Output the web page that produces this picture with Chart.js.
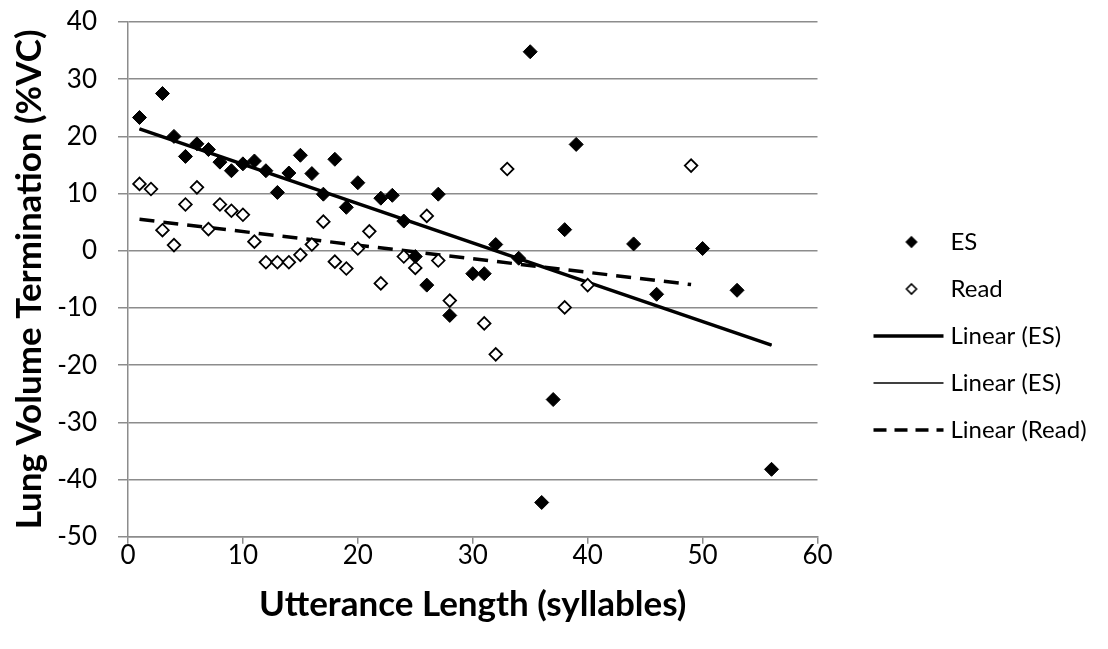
<!DOCTYPE html>
<html>
<head>
<meta charset="utf-8">
<script src="https://cdn.jsdelivr.net/npm/chart.js@4"></script>
<style>
  html, body { margin: 0; padding: 0; background: #fff; }
  #wrap { width: 1108px; height: 649px; }
</style>
</head>
<body>
<div id="wrap"><canvas id="chart" width="1108" height="649"></canvas></div>
<script>
// values
const esX = [1, 3, 4, 5, 6, 7, 8, 9, 10, 11, 12, 13, 14, 15, 16, 17, 18, 19, 20, 22,
  23, 24, 25, 26, 27, 28, 30, 31, 32, 34, 35, 36, 37, 38, 39, 44, 46, 50, 53, 56];
const esY = [23.3, 27.5, 20, 16.5, 18.7, 17.7, 15.5, 14, 15.2, 15.7, 14, 10.2, 13.6, 16.7, 13.5, 9.9, 16, 7.6, 11.9, 9.2,
  9.7, 5.2, -1, -6, 9.9, -11.3, -4, -4, 1.1, -1.3, 34.8, -44, -26, 3.7, 18.6, 1.2, -7.6, 0.4, -6.9, -38.2];

const readX = [1, 2, 3, 4, 5, 6, 7, 8, 9, 10, 11, 12, 13, 14, 15, 16, 17, 18, 19, 20,
  21, 22, 24, 25, 26, 27, 28, 31, 32, 33, 38, 40, 49];
const readY = [11.7, 10.8, 3.6, 1, 8.1, 11.1, 3.8, 8.1, 7, 6.3, 1.6, -2, -2, -2, -0.7, 1.1, 5.1, -1.9, -3.1, 0.4,
  3.4, -5.7, -1, -3, 6.1, -1.7, -8.7, -12.7, -18.1, 14.3, -9.9, -6, 14.9];

// trend line end points as drawn
const esTrendX = [1, 56];
const esTrendY = [21.3, -16.5];
const readTrendX = [1, 49];
const readTrendY = [5.5, -5.9];

const xTicks = [0, 10, 20, 30, 40, 50, 60];
const yTicks = [-50, -40, -30, -20, -10, 0, 10, 20, 30, 40];

const FONT = "Lato, 'Open Sans', sans-serif";
const GRID = "#8c8c8c";
const ICON_W = 98;        // legend symbol box
const IMG_W = ICON_W + 12; // symbol picture, a bit wider so it sits close to the text

function pts(xs, ys) {
  return xs.map((x, i) => ({ x: x, y: ys[i] }));
}

// small canvases used as legend symbols
function legendLine(width, dash) {
  const c = document.createElement("canvas");
  c.width = IMG_W;
  c.height = 8;
  const g = c.getContext("2d");
  g.strokeStyle = "#000";
  g.lineWidth = width;
  g.setLineDash(dash);
  g.beginPath();
  g.moveTo(IMG_W - 71, 4);
  g.lineTo(IMG_W - 1, 4);
  g.stroke();
  return c;
}

function legendDiamond(filled) {
  const c = document.createElement("canvas");
  c.width = IMG_W;
  c.height = 14;
  const g = c.getContext("2d");
  const cx = IMG_W - 33;
  g.beginPath();
  g.moveTo(cx, 2);
  g.lineTo(cx + 5, 7);
  g.lineTo(cx, 12);
  g.lineTo(cx - 5, 7);
  g.closePath();
  g.lineWidth = 1.6;
  g.strokeStyle = "#000";
  g.fillStyle = filled ? "#000" : "#fff";
  g.fill();
  g.stroke();
  return c;
}

const legendIcons = [
  legendDiamond(true),
  legendDiamond(false),
  legendLine(3.5, []),
  legendLine(1.5, []),
  legendLine(3.5, [13, 8])
];

const ctx = document.getElementById("chart").getContext("2d");
new Chart(ctx, {
  type: "scatter",
  data: {
    datasets: [
      {
        label: "ES",
        data: pts(esX, esY),
        pointStyle: "rectRot",
        pointRadius: 7,
        backgroundColor: "#000",
        borderColor: "#000",
        borderWidth: 1,
        order: 1
      },
      {
        label: "Read",
        data: pts(readX, readY),
        pointStyle: "rectRot",
        pointRadius: 6.3,
        backgroundColor: "#fff",
        borderColor: "#000",
        borderWidth: 1.8,
        order: 2
      },
      {
        label: "Linear (ES)",
        type: "line",
        data: pts(esTrendX, esTrendY),
        borderColor: "#000",
        borderWidth: 3.5,
        pointRadius: 0,
        fill: false,
        order: 3
      },
      {
        label: "Linear (ES)",
        type: "line",
        data: pts(esTrendX, esTrendY),
        borderColor: "#000",
        borderWidth: 1.5,
        pointRadius: 0,
        fill: false,
        order: 4
      },
      {
        label: "Linear (Read)",
        type: "line",
        data: pts(readTrendX, readTrendY),
        borderColor: "#000",
        borderWidth: 3.5,
        borderDash: [15, 9],
        pointRadius: 0,
        fill: false,
        order: 5
      }
    ]
  },
  options: {
    responsive: false,
    animation: false,
    layout: { padding: { top: 22, right: 18, left: 0, bottom: 19 } },
    plugins: {
      tooltip: { enabled: false },
      legend: {
        position: "right",
        align: "center",
        title: {
          display: true,
          text: " ",
          font: { size: 10 },
          padding: 4
        },
        labels: {
          usePointStyle: true,
          pointStyleWidth: ICON_W,
          padding: 23,
          color: "#000",
          font: { family: FONT, size: 24 },
          generateLabels: (chart) =>
            chart.data.datasets.map((ds, i) => ({
              text: ds.label,
              pointStyle: legendIcons[i],
              fillStyle: "#000",
              strokeStyle: "#000",
              fontColor: "#000",
              lineWidth: 0,
              hidden: false,
              datasetIndex: i
            }))
        }
      }
    },
    scales: {
      x: {
        type: "linear",
        min: 0,
        max: 60,
        afterBuildTicks: (s) => { s.ticks = xTicks.map((v) => ({ value: v })); },
        ticks: {
          color: "#000",
          font: { family: FONT, size: 26 },
          padding: -4
        },
        grid: {
          drawOnChartArea: false,
          drawTicks: true,
          tickLength: 7,
          color: GRID,
          lineWidth: 1.5
        },
        border: { color: GRID, width: 1.5 },
        title: {
          display: true,
          text: "Utterance Length (syllables)",
          color: "#000",
          font: { family: FONT, size: 35, weight: "bold" },
          padding: { top: 17, bottom: 4 }
        }
      },
      y: {
        type: "linear",
        min: -50,
        max: 40,
        afterBuildTicks: (s) => { s.ticks = yTicks.map((v) => ({ value: v })); },
        // fixed axis width, and no extra space above / below the plot
        afterFit: (s) => {
          s.width = 128;
          s.paddingTop = 12;
          s.paddingBottom = 12;
        },
        ticks: {
          color: "#000",
          font: { family: FONT, size: 26 },
          padding: 21
        },
        grid: {
          drawTicks: true,
          tickLength: 10,
          color: GRID,
          lineWidth: 1.5
        },
        border: { color: GRID, width: 1.5 },
        title: {
          display: true,
          text: "Lung Volume Termination (%VC)",
          color: "#000",
          font: { family: FONT, size: 35, weight: "bold" },
          padding: { top: 9, bottom: 0 }
        }
      }
    }
  }
});
</script>
</body>
</html>
